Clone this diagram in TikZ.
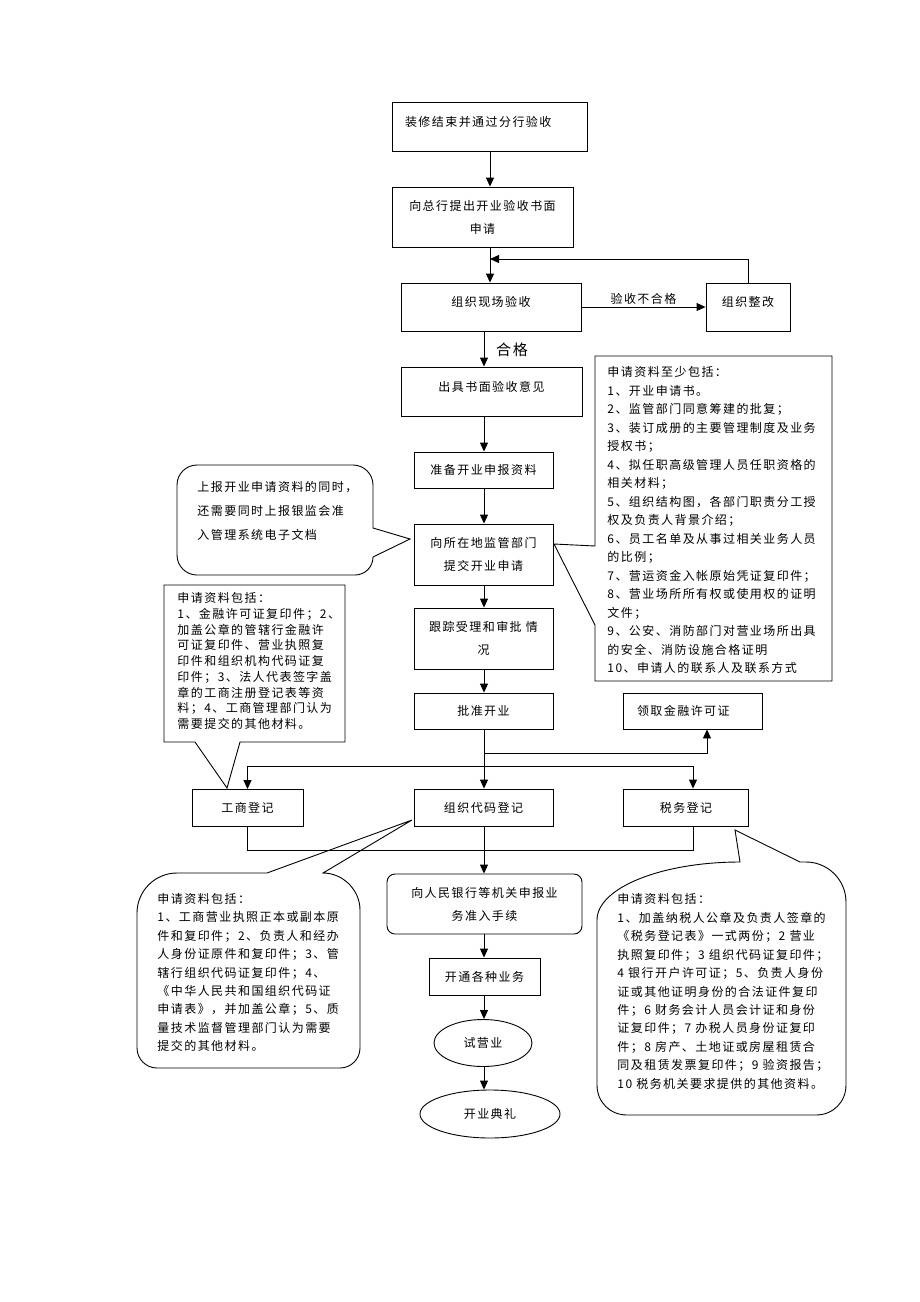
\documentclass[tikz,border=0pt]{standalone}
\usepackage{fontspec}
\setmainfont{Noto Sans CJK SC}[LetterSpace=12]
\usetikzlibrary{arrows.meta,shapes.geometric}
\begin{document}
\begin{tikzpicture}[x=1pt,y=-1pt, line width=0.9pt,
  box/.style={draw, inner sep=0pt, align=center, font=\fontsize{12pt}{23pt}\selectfont},
  upper/.style={text height=10pt, text depth=11pt},
  arr/.style={-{Triangle[length=9pt,width=8pt]}},
  note/.style={inner sep=0pt, align=left, anchor=west},
  callout/.style={draw, line width=0.9pt}
]
\fill[white] (0,0) rectangle (920,1302);
\useasboundingbox (0,0) rectangle (920,1302);

% ---------- callouts ----------
% right rectangular callout
\draw[callout] (595,546) -- (595,356) -- (832,356) -- (832,681) -- (595,681) -- (595,625) -- (554,544) -- cycle;
\node[note, font=\fontsize{12pt}{18.5pt}\selectfont] (t5) at (607,520) {申请资料至少包括：\\1、开业申请书。\\2、监管部门同意筹建的批复；\\3、装订成册的主要管理制度及业务\\授权书；\\4、拟任职高级管理人员任职资格的\\相关材料；\\5、组织结构图，各部门职责分工授\\权及负责人背景介绍；\\6、员工名单及从事过相关业务人员\\的比例；\\7、营运资金入帐原始凭证复印件；\\8、营业场所所有权或使用权的证明\\文件；\\9、公安、消防部门对营业场所出具\\的安全、消防设施合格证明\\10、申请人的联系人及联系方式};

% left rectangular callout
\draw[callout] (195,742) -- (164,742) -- (164,585) -- (345,585) -- (345,742) -- (240,742) -- (227,788) -- cycle;
\node[note, font=\fontsize{12pt}{15.75pt}\selectfont] (t2) at (177,661) {申请资料包括：\\1、金融许可证复印件；2、\\加盖公章的管辖行金融许\\可证复印件、营业执照复\\印件和组织机构代码证复\\印件；3、法人代表签字盖\\章的工商注册登记表等资\\料；4、工商管理部门认为\\需要提交的其他材料。};

% left speech bubble
\draw[callout] (373,528) -- (410,539) -- (373,557) .. controls (373,567) and (365,575) .. (355,575) -- (197,575) .. controls (186,575) and (177,566) .. (177,555) -- (177,485) .. controls (177,474) and (186,465) .. (197,465) -- (353,465) .. controls (364,465) and (373,474) .. (373,485) -- cycle;
\node[note, font=\fontsize{12pt}{24pt}\selectfont] (t1) at (197,511) {上报开业申请资料的同时，\\还需要同时上报银监会准\\入管理系统电子文档};

% bottom-left speech bubble
\draw[callout] (267,873) -- (412,820) -- (323,873) .. controls (343,873) and (360,890) .. (360,910) -- (360,1048) .. controls (360,1059) and (351,1068) .. (340,1068) -- (157,1068) .. controls (146,1068) and (137,1059) .. (137,1048) -- (137,913) .. controls (137,891) and (155,873) .. (177,873) -- cycle;
\node[note, font=\fontsize{12pt}{18.4pt}\selectfont] (t3) at (157,972.5) {申请资料包括：\\1、工商营业执照正本或副本原\\件和复印件；2、负责人和经办\\人身份证原件和复印件；3、管\\辖行组织代码证复印件；4、\\《中华人民共和国组织代码证\\申请表》，并加盖公章；5、质\\量技术监督管理部门认为需要\\提交的其他材料。};

% bottom-right speech bubble
\draw[callout] (740,862) -- (735,830) -- (800,862) -- (806,862) .. controls (828,862) and (846,880) .. (846,902) -- (846,1085) .. controls (846,1102) and (833,1115) .. (816,1115) -- (627,1115) .. controls (610,1115) and (597,1102) .. (597,1085) -- (597,920) .. controls (597,888) and (661,862) .. (740,862) -- cycle;
\node[note, font=\fontsize{12pt}{18.45pt}\selectfont] (t4) at (617,991.5) {申请资料包括：\\1、加盖纳税人公章及负责人签章的\\《税务登记表》一式两份；2 营业\\执照复印件；3 组织代码证复印件；\\4 银行开户许可证；5、负责人身份\\证或其他证明身份的合法证件复印\\件；6 财务会计人员会计证和身份\\证复印件；7 办税人员身份证复印\\件；8 房产、土地证或房屋租赁合\\同及租赁发票复印件；9 验资报告；\\10 税务机关要求提供的其他资料。};

% ---------- flow boxes ----------
\node[box, upper, minimum width=195pt, minimum height=49pt, text width=169pt, align=left] (b1) at (489.5,126.5) {装修结束并通过分行验收};
\node[box, minimum width=181pt, minimum height=60pt] (b2) at (482.5,217) {向总行提出开业验收书面\\申请};
\node[box, upper, minimum width=180pt, minimum height=48pt] (b3) at (491,307) {组织现场验收};
\node[box, upper, minimum width=84pt, minimum height=48pt] (zg) at (748,307) {组织整改};
\node[box, upper, minimum width=181pt, minimum height=49pt] (b4) at (491.5,391.5) {出具书面验收意见};
\node[box, minimum width=139pt, minimum height=36pt] (b5) at (483.5,470) {准备开业申报资料};
\node[box, minimum width=139pt, minimum height=61pt] (b6) at (483.5,554.5) {向所在地监管部门\\提交开业申请};
\node[box, minimum width=139pt, minimum height=61pt] (b7) at (483.5,638.5) {跟踪受理和审批 情\\况};
\node[box, minimum width=139pt, minimum height=36pt] (b8) at (483.5,711) {批准开业};
\node[box, minimum width=139pt, minimum height=36pt, text width=111pt, align=left] (lq) at (692.5,711) {领取金融许可证};
\node[box, minimum width=111pt, minimum height=37pt] (gs) at (247.5,808) {工商登记};
\node[box, minimum width=139pt, minimum height=37pt] (zz) at (483.5,807.5) {组织代码登记};
\node[box, minimum width=125pt, minimum height=37pt] (sw) at (686,807.5) {税务登记};
\node[box, rounded corners=8pt, minimum width=195pt, minimum height=60pt] (rb) at (484.5,904) {向人民银行等机关申报业\\务准入手续};
\node[box, minimum width=111pt, minimum height=37pt] (kt) at (484.5,976.5) {开通各种业务};
\node[box, ellipse, minimum width=98pt, minimum height=47pt] (sy) at (483,1043) {试营业};
\node[box, ellipse, minimum width=140pt, minimum height=48pt] (kd) at (490,1114) {开业典礼};

\node[font=\fontsize{15pt}{18pt}\selectfont] (hg) at (512,350) {合格};

% ---------- helper coordinates ----------
\coordinate (xA) at (490,0);
\coordinate (xB) at (484,0);
\coordinate (xL) at (707,0);
\coordinate (xT) at (693,0);
\coordinate (yF) at (0,259);
\coordinate (yJ) at (0,753);
\coordinate (yH) at (0,766);
\coordinate (yU) at (0,850);

% ---------- connectors ----------
\draw[arr] (b1.south -| xA) -- (b2.north -| xA);
\draw[arr] (b2.south -| xA) -- (b3.north -| xA);
\draw[arr] (b3.east) -- node[above, inner sep=2pt, font=\fontsize{12pt}{14pt}\selectfont] (bhg) {验收不合格} (zg.west);
\draw[arr] (zg.north) -- (zg.north |- yF) -- (xA |- yF);
\draw[arr] (b3.south -| xB) -- (b4.north -| xB);
\draw[arr] (b4.south -| xB) -- (b5.north -| xB);
\draw[arr] (b5.south -| xB) -- (b6.north -| xB);
\draw[arr] (b6.south -| xB) -- (b7.north -| xB);
\draw[arr] (b7.south -| xB) -- (b8.north -| xB);
\draw[arr] (b8.south -| xB) -- (zz.north -| xB);
\draw[arr] (xB |- yJ) -| (xL |- lq.south);
\draw[arr] (gs.north |- yH) -- (xT |- yH) -- (xT |- sw.north);
\draw[arr] (gs.north |- yH) -- (gs.north);
\draw (gs.south) -- (gs.south |- yU) -| (xT |- sw.south);
\draw[arr] (zz.south -| xB) -- (rb.north -| xB);
\draw[arr] (rb.south -| xB) -- (kt.north -| xB);
\draw[arr] (kt.south -| xB) -- (sy.north -| xB);
\draw[arr] (sy.south -| xB) -- (kd.north -| xB);
\end{tikzpicture}
\end{document}
